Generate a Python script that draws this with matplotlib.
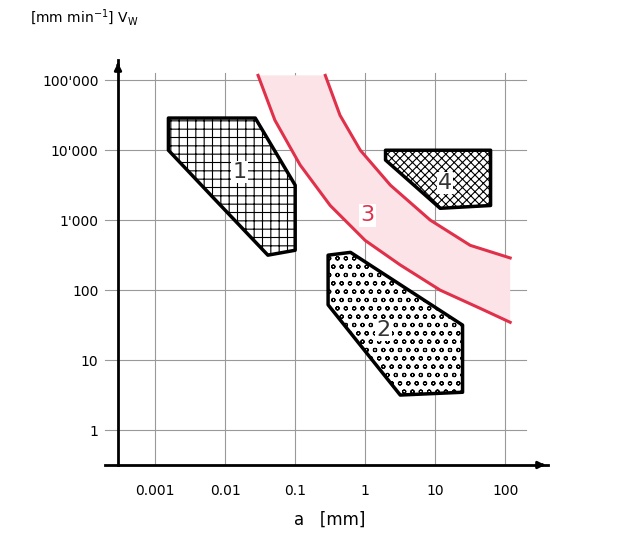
import numpy as np
import matplotlib.pyplot as plt
from matplotlib.patches import Polygon

# decade positions used in the chart
x_ticks = [0.001, 0.01, 0.1, 1, 10, 100]
x_labels = ["0.001", "0.01", "0.1", "1", "10", "100"]
y_ticks = [1, 10, 100, 1000, 10000, 100000]
y_labels = ["1", "10", "100", "1'000", "10'000", "100'000"]

# regions, as (log10 a, log10 v) corner points
reg1 = [(-2.81, 4.46), (-1.57, 4.46), (-1.0, 3.5), (-1.0, 2.57), (-1.39, 2.5), (-2.14, 3.29), (-2.81, 4.0)]
reg2 = [(-0.53, 2.5), (-0.21, 2.54), (1.39, 1.5), (1.39, 0.54), (0.5, 0.5), (-0.53, 1.79)]
reg4 = [(0.29, 4.0), (1.79, 4.0), (1.79, 3.21), (1.07, 3.17), (0.29, 3.86)]
band_in = [(-1.53, 5.07), (-1.29, 4.43), (-0.93, 3.79), (-0.5, 3.21), (0.0, 2.71),
           (0.5, 2.36), (1.07, 2.0), (1.64, 1.74), (2.07, 1.54)]
band_out = [(-0.57, 5.07), (-0.36, 4.5), (-0.07, 4.0), (0.36, 3.5), (0.93, 3.0),
            (1.5, 2.64), (2.07, 2.46)]
labels = {"1": (-1.79, 3.69), "2": (0.26, 1.43), "3": (0.03, 3.07), "4": (1.14, 3.53)}

fig = plt.figure(figsize=(6.19, 5.4), dpi=100)
ax = fig.add_axes([118/619, 75/540, 430/619, 405/540])
ax.set_xscale("log")
ax.set_yscale("log")
ax.set_xlim(10**-3.53, 10**2.61)
ax.set_ylim(10**-0.5, 10**5.29)
for s in ["top", "right"]:
    ax.spines[s].set_visible(False)
for s in ["left", "bottom"]:
    ax.spines[s].set_linewidth(2)
ax.set_xticks(x_ticks)
ax.set_xticklabels(x_labels, fontsize=10)
ax.set_yticks(y_ticks)
ax.set_yticklabels(y_labels, fontsize=10)
ax.minorticks_off()
ax.tick_params(length=0, pad=14)
for xv in x_ticks:
    ax.plot([xv, xv], [10**-0.5, 10**5.1], color="#999999", lw=0.8, zorder=0)
for yv in y_ticks:
    ax.plot([10**-3.72, 10**2.3], [yv, yv], color="#999999", lw=0.8, zorder=0, clip_on=False)
ax.plot([10**-3.72, 10**-3.53], [10**-0.5, 10**-0.5], color="black", lw=2, clip_on=False)
ax.annotate("", xy=(1.0, 0), xytext=(0.98, 0), xycoords="axes fraction",
            arrowprops=dict(arrowstyle="-|>", color="black", lw=2))
ax.annotate("", xy=(0, 1.0), xytext=(0, 0.98), xycoords="axes fraction",
            arrowprops=dict(arrowstyle="-|>", color="black", lw=2))

def poly(pts, hatch, ec, fc="white", lw=2.5, closed=True):
    xy = [(10**a, 10**b) for a, b in pts]
    ax.add_patch(Polygon(xy, closed=closed, facecolor=fc, edgecolor=ec, hatch=hatch,
                         lw=lw, joinstyle="round", zorder=2))

plt.rcParams["hatch.linewidth"] = 0.8
band = band_in + band_out[::-1]
plt.rcParams["hatch.color"] = "#e0304a"
poly(band, "+++", "none", fc="#fbe3e8", lw=0)
for edge in (band_in, band_out):
    ax.plot([10**a for a, b in edge], [10**b for a, b in edge], color="#e0304a", lw=2.2, zorder=2)
plt.rcParams["hatch.color"] = "black"
poly(reg1, "++", "black")
poly(reg2, "oo", "black")
poly(reg4, "xxxx", "black")

for k, (a, b) in labels.items():
    col = "#e0304a" if k == "3" else "#333333"
    ax.text(10**a, 10**b, k, fontsize=16, color=col, ha="center", va="center", zorder=3,
            bbox=dict(facecolor="white", edgecolor="none", pad=1))

fig.text(330/619, 1 - 520/540, "a   [mm]", fontsize=12, ha="center", va="center")
fig.text(30/619, 1 - 18/540, r"[mm min$^{-1}$] V$_\mathrm{W}$", fontsize=10, ha="left", va="center")

fig.savefig("out.png", dpi=100)
